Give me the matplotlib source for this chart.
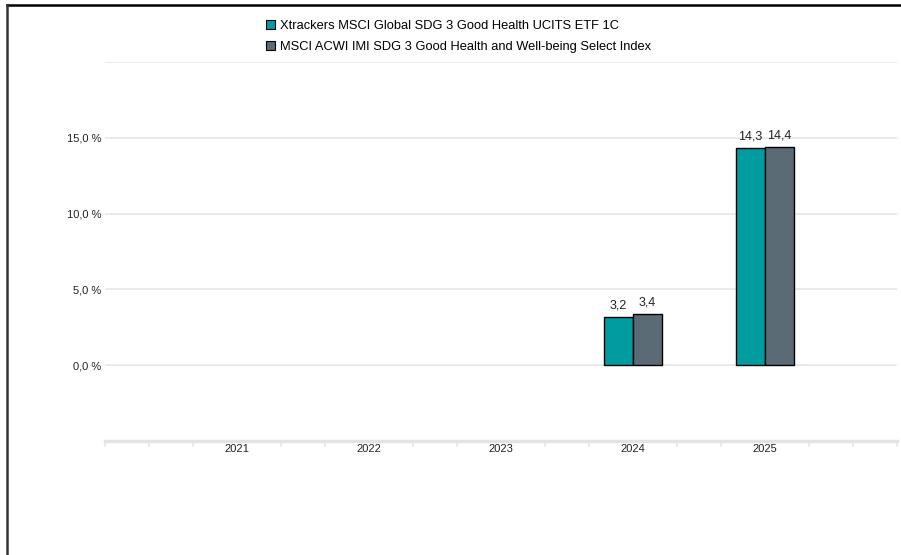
import matplotlib

matplotlib.use("Agg")
import matplotlib.pyplot as plt
from matplotlib.lines import Line2D
from matplotlib.ticker import FixedLocator

plt.rcParams["font.family"] = ["Liberation Sans", "DejaVu Sans"]

years = ["2021", "2022", "2023", "2024", "2025"]
fund_name = "Xtrackers MSCI Global SDG 3 Good Health UCITS ETF 1C"
index_name = "MSCI ACWI IMI SDG 3 Good Health and Well-being Select Index"
fund_values = [None, None, None, 3.2, 14.3]
index_values = [None, None, None, 3.4, 14.4]
y_ticks = [0, 5, 10, 15]

fund_color = "#009ca0"
index_color = "#5b6b76"
grid_color = "#e6e6e6"

fig = plt.figure(figsize=(9.01, 5.55), dpi=100)
ax = fig.add_axes([0.1165, 0.2054, 0.8791, 0.6829])

bar_w = 0.22
xs = list(range(1, len(years) + 1))
for x, fv, iv in zip(xs, fund_values, index_values):
    if fv is not None:
        ax.bar(x - bar_w / 2, fv, bar_w, color=fund_color, edgecolor="black", linewidth=1.0, zorder=3)
        ax.annotate(f"{fv:.1f}".replace(".", ","), (x - bar_w / 2, fv), xytext=(0, 4),
                    textcoords="offset points", ha="center", va="bottom", fontsize=9, color="#222222")
    if iv is not None:
        ax.bar(x + bar_w / 2, iv, bar_w, color=index_color, edgecolor="black", linewidth=1.0, zorder=3)
        ax.annotate(f"{iv:.1f}".replace(".", ","), (x + bar_w / 2, iv), xytext=(0, 4),
                    textcoords="offset points", ha="center", va="bottom", fontsize=9, color="#222222")

ax.set_xlim(0, len(years) + 1)
ax.set_ylim(-5, 20)

# gridlines at labelled ticks plus the unlabelled top line
for yv in y_ticks + [20]:
    ax.axhline(yv, color=grid_color, linewidth=1.2, zorder=1)

ax.set_yticks(y_ticks)
ax.set_yticklabels([f"{v:.1f} %".replace(".", ",") for v in y_ticks])
ax.set_xticks(xs)
ax.set_xticklabels(years)
minor = [i / 3 for i in range(0, 3 * (len(years) + 1) + 1) if i % 3 != 0 or i in (0, 3 * (len(years) + 1))]
ax.xaxis.set_minor_locator(FixedLocator(minor))
ax.tick_params(axis="x", which="major", length=0, labelsize=8, pad=2.5, colors="#222222")
ax.tick_params(axis="x", which="minor", length=4, width=1.2, color=grid_color, direction="out")
ax.tick_params(axis="y", length=0, labelsize=8, pad=2.5, colors="#222222")

for side in ["top", "right", "left"]:
    ax.spines[side].set_visible(False)
ax.spines["bottom"].set_color("#e3e3e3")
ax.spines["bottom"].set_linewidth(2.5)

handles = [
    plt.Rectangle((0, 0), 1, 1, facecolor=fund_color, edgecolor="black", linewidth=0.8),
    plt.Rectangle((0, 0), 1, 1, facecolor=index_color, edgecolor="black", linewidth=0.8),
]
fig.legend(handles, [fund_name, index_name], loc="upper left", bbox_to_anchor=(0.289, 0.974),
           frameon=False, fontsize=9.3, handlelength=0.75, handleheight=0.75, handletextpad=0.4,
           labelspacing=0.7, borderaxespad=0)

# dark frame lines at top and left edge
fig.add_artist(Line2D([7 / 901, 1], [1 - 5 / 555, 1 - 5 / 555], color="black", linewidth=1.8,
                      transform=fig.transFigure))
fig.add_artist(Line2D([7 / 901, 7 / 901], [0, 1 - 5 / 555], color="#333333", linewidth=1.8,
                      transform=fig.transFigure))

fig.savefig("out.png", dpi=100)
